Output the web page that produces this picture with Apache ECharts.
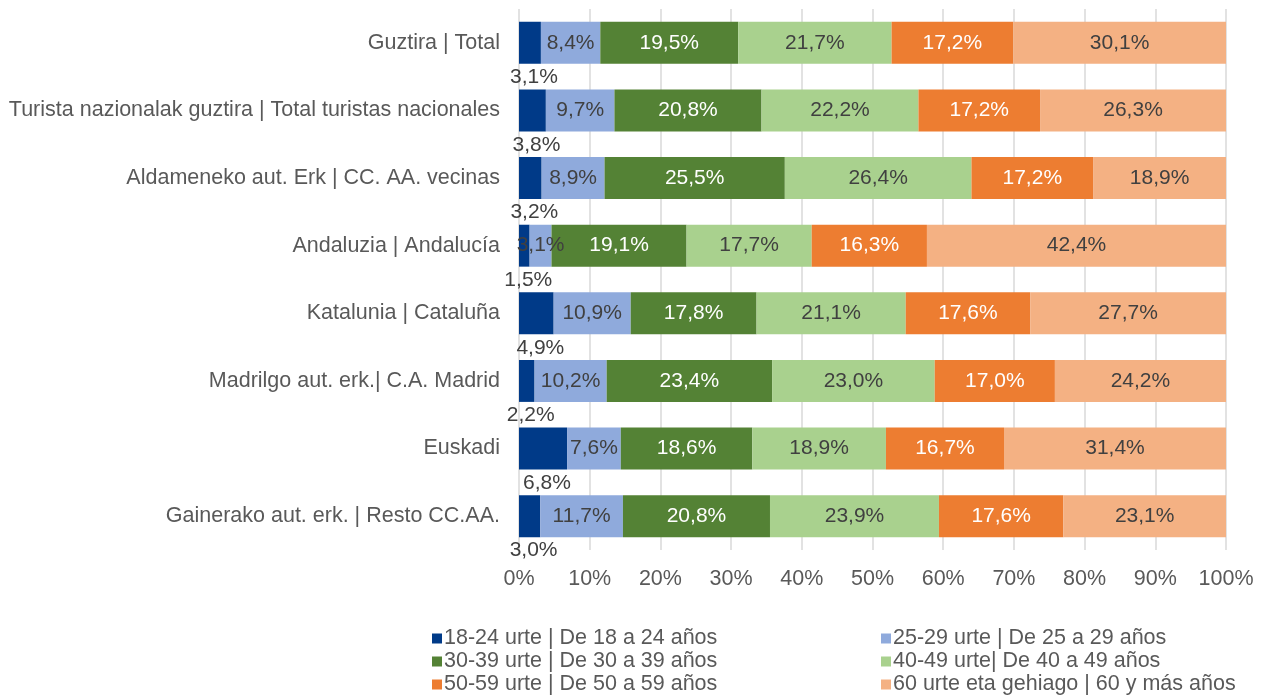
<!DOCTYPE html>
<html>
<head>
    <meta http-equiv="content-type" content="text/html;charset=utf-8">
    <script src="https://cdn.jsdelivr.net/npm/echarts@6/dist/echarts.min.js"></script>
    <style>
        html, body { margin: 0; padding: 0; background: #fff; }
        #chart { width: 1262px; height: 696px; }
    </style>
</head>
<body>
<div id="chart"></div>
<script type="text/javascript">
    // categorias (de arriba a abajo)
    var categories = [
        'Guztira | Total',
        'Turista nazionalak guztira | Total turistas nacionales',
        'Aldameneko aut. Erk | CC. AA. vecinas',
        'Andaluzia | Andalucía',
        'Katalunia | Cataluña',
        'Madrilgo aut. erk.| C.A. Madrid',
        'Euskadi',
        'Gainerako aut. erk. | Resto CC.AA.'
    ];
    var seriesNames = [
        '18-24 urte | De 18 a 24 años',
        '25-29 urte | De 25 a 29 años',
        '30-39 urte | De 30 a 39 años',
        '40-49 urte| De 40 a 49 años',
        '50-59 urte | De 50 a 59 años',
        '60 urte eta gehiago | 60 y más años'
    ];
    var age18_24 = [3.1, 3.8, 3.2, 1.5, 4.9, 2.2, 6.8, 3.0];
    var age25_29 = [8.4, 9.7, 8.9, 3.1, 10.9, 10.2, 7.6, 11.7];
    var age30_39 = [19.5, 20.8, 25.5, 19.1, 17.8, 23.4, 18.6, 20.8];
    var age40_49 = [21.7, 22.2, 26.4, 17.7, 21.1, 23.0, 18.9, 23.9];
    var age50_59 = [17.2, 17.2, 17.2, 16.3, 17.6, 17.0, 16.7, 17.6];
    var age60 = [30.1, 26.3, 18.9, 42.4, 27.7, 24.2, 31.4, 23.1];
    var xTicks = [0, 10, 20, 30, 40, 50, 60, 70, 80, 90, 100];

    var colors = ['#003A88', '#8FAADC', '#548235', '#A9D18E', '#ED7D31', '#F4B183'];
    var labelColors = ['#404040', '#404040', '#ffffff', '#404040', '#ffffff', '#404040'];
    var allData = [age18_24, age25_29, age30_39, age40_49, age50_59, age60];
    var font = '"Liberation Sans", Arial, sans-serif';

    function fmt(p) {
        return p.value.toFixed(1).replace('.', ',') + '%';
    }

    var series = [];
    for (var i = 0; i < allData.length; i++) {
        series.push({
            name: seriesNames[i],
            type: 'bar',
            stack: 'total',
            barWidth: '62%',
            data: allData[i],
            itemStyle: {color: colors[i]},
            label: {
                show: true,
                position: i == 0 ? 'bottom' : 'inside',
                distance: 3,
                offset: i == 0 ? [4, 0] : [0, 0],
                formatter: fmt,
                color: labelColors[i],
                fontSize: 21,
                fontFamily: font
            }
        });
    }

    var legendText = {fontSize: 21.5, lineHeight: 23, color: '#595959', fontFamily: font, padding: [0, 0, 0, -3]};

    var chart = echarts.init(document.getElementById('chart'));
    var option = {
        animation: false,
        color: colors,
        grid: {left: 519, right: 36, top: 9, height: 541},
        legend: [
            {
                data: [seriesNames[0], seriesNames[2], seriesNames[4]],
                orient: 'vertical', left: 432, top: 627, itemGap: 0, padding: 0,
                itemWidth: 10, itemHeight: 10, icon: 'rect',
                textStyle: legendText
            },
            {
                data: [seriesNames[1], seriesNames[3], seriesNames[5]],
                orient: 'vertical', left: 881, top: 627, itemGap: 0, padding: 0,
                itemWidth: 10, itemHeight: 10, icon: 'rect',
                textStyle: legendText
            }
        ],
        xAxis: {
            type: 'value',
            min: 0, max: 100, interval: 10,
            axisLine: {show: false},
            axisTick: {show: false},
            splitLine: {lineStyle: {color: '#D9D9D9', width: 1.5}},
            axisLabel: {
                formatter: function (v) { return xTicks.indexOf(v) >= 0 ? v + '%' : ''; },
                color: '#595959', fontSize: 21.5, fontFamily: font, margin: 18
            }
        },
        yAxis: {
            type: 'category',
            inverse: true,
            data: categories,
            axisLine: {show: false},
            axisTick: {show: false},
            axisLabel: {color: '#595959', fontSize: 21.5, fontFamily: font, margin: 19}
        },
        series: series
    };
    chart.setOption(option);
</script>
</body>
</html>
